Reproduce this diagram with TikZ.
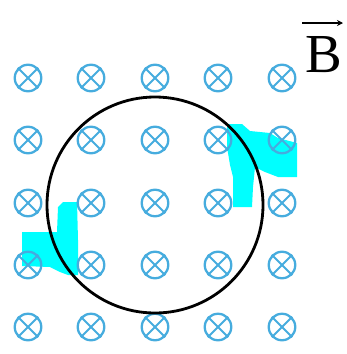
\documentclass[tikz,border=0pt]{standalone}
\usepackage{fontspec}
\setmainfont{Liberation Serif}
\usetikzlibrary{arrows.meta}
\definecolor{fieldblue}{RGB}{70,172,222}
\definecolor{blobcyan}{RGB}{0,255,255}
\tikzset{
  fieldsym/.style={circle, draw=fieldblue, line width=2.3pt, minimum size=26.5pt, inner sep=0pt},
  crossline/.style={draw=fieldblue, line width=2pt},
  loopline/.style={draw=black, line width=2.8pt},
  blob/.style={fill=blobcyan, draw=none},
}
\begin{document}
\begin{tikzpicture}[x=1pt,y=-1pt]
\useasboundingbox (0,0) rectangle (346,354);
% cyan patches
\path[blob] (227,124) -- (242,124) -- (250,131) -- (270,133) -- (278,138) -- (297,143)
  -- (297,177) -- (278,177) -- (265,172) -- (255,167) -- (253,187) -- (252,207)
  -- (233,207) -- (233,177) -- (230,165) -- (227,147) -- cycle;
\path[blob] (63,202) -- (77,202) -- (78,240) -- (78,275) -- (68,275) -- (60,272)
  -- (50,267) -- (22,266) -- (22,232) -- (57,232) -- (58,207) -- cycle;
% field symbols
\foreach \c/\x in {1/28,2/91,3/155,4/218,5/282}{
  \foreach \r/\y in {1/78,2/140,3/203,4/265,5/327}{
    \node[fieldsym] (f\r\c) at (\x,\y) {};
    \path[crossline] (f\r\c.45) -- (f\r\c.225);
    \path[crossline] (f\r\c.135) -- (f\r\c.315);
  }
}
% loop
\node[loopline, circle, minimum size=216pt, inner sep=0pt] (loop) at (155,205) {};
% label
\node[anchor=base, inner sep=0pt, font=\fontsize{55}{60}\selectfont] (B) at (323.5,72) {B};
\coordinate (arrL) at (302,23);
\coordinate (arrR) at (343,23);
\draw[line width=1.4pt, -{Stealth[length=6pt,width=6pt]}] (arrL) -- (arrR);
\end{tikzpicture}
\end{document}
